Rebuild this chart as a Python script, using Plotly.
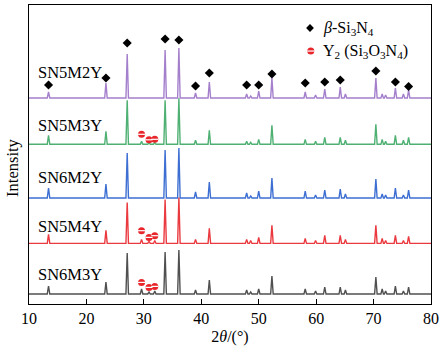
import plotly.graph_objects as go

# ---------------- data ----------------
peak_pos = [13.4, 23.4, 27.1, 29.6, 30.9, 31.9, 33.7, 36.1, 39.0, 41.4, 47.9, 48.6, 50.0,
            52.3, 58.1, 59.9, 61.5, 64.2, 65.1, 70.4, 71.5, 72.1, 73.8, 75.2, 76.1]

series_names = ["SN5M2Y", "SN5M3Y", "SN6M2Y", "SN5M4Y", "SN6M3Y"]
series_offsets = [206, 159.7, 106, 60.6, 10]
series_colors = ["#a47fcc", "#4fb073", "#3d6fd2", "#ea3a40", "#505050"]
label_y = [232, 179, 127, 78, 30]

h_SN5M2Y = [6, 15, 44, 0, 0, 0, 48, 50, 5, 16, 4, 2, 7, 20, 6, 3, 9, 11, 4, 20, 4, 3, 10, 4, 8]
h_SN5M3Y = [9, 13, 44, 3, 2, 2, 44, 46, 4, 14, 3, 2, 5, 19, 5, 3, 7, 7, 4, 20, 5, 3, 9, 4, 7]
h_SN6M2Y = [10, 14, 45, 0, 0, 0, 48, 50, 6, 16, 5, 2, 7, 20, 7, 3, 8, 9, 4, 19, 4, 3, 10, 3, 8]
h_SN5M4Y = [9, 13, 41, 4, 2, 3, 44, 46, 4, 15, 4, 3, 6, 18, 5, 3, 8, 8, 4, 18, 5, 3, 8, 3, 7]
h_SN6M3Y = [8, 12, 41, 5, 2, 3, 42, 44, 4, 14, 4, 2, 5, 18, 5, 3, 7, 7, 4, 17, 5, 3, 8, 3, 7]
heights = [h_SN5M2Y, h_SN5M3Y, h_SN6M2Y, h_SN5M4Y, h_SN6M3Y]

beta_x = [13.4, 23.4, 27.1, 33.7, 36.1, 39.0, 41.4, 47.9, 50.0, 52.3, 58.1, 61.5, 64.2, 70.4, 73.8, 76.1]
beta_h = [13, 20, 55, 59, 58, 12, 25, 13, 13, 24, 15, 16, 18, 27, 16, 11.5]

y2_x = [29.6, 30.9, 31.9]
y2_series = [1, 3, 4]
y2_h = [[10, 4.5, 5], [12.7, 6, 7.7], [11.6, 6.6, 7.6]]

x_ticks = [10, 20, 30, 40, 50, 60, 70, 80]

legend_labels = ["<i>β</i>-Si<sub>3</sub>N<sub>4</sub>",
                 "Y<sub>2</sub> (Si<sub>3</sub>O<sub>3</sub>N<sub>4</sub>)"]

FONT = "Liberation Serif"
HALF_W = 0.22
RED = "#e8262c"

fig = go.Figure()

for name, off, col, h in zip(series_names, series_offsets, series_colors, heights):
    xs, ys = [10], [off]
    for p, hh in zip(peak_pos, h):
        xs += [p - HALF_W, p, p + HALF_W]
        ys += [off, off + hh, off]
    xs.append(80)
    ys.append(off)
    fig.add_trace(go.Scatter(x=xs, y=ys, mode="lines", line=dict(color=col, width=1.4),
                             showlegend=False, hoverinfo="skip"))

# beta-Si3N4 markers on top series
fig.add_trace(go.Scatter(x=beta_x, y=[series_offsets[0] + v for v in beta_h], mode="markers",
                         marker=dict(symbol="diamond", size=7, color="black"),
                         showlegend=False, hoverinfo="skip"))

# Y2(Si3O3N4) markers: red disc with a white band
for si, hs in zip(y2_series, y2_h):
    ys = [series_offsets[si] + v for v in hs]
    fig.add_trace(go.Scatter(x=y2_x, y=ys, mode="markers",
                             marker=dict(symbol="circle", size=7, color=RED, line=dict(width=0)),
                             showlegend=False, hoverinfo="skip"))
    fig.add_trace(go.Scatter(x=y2_x, y=ys, mode="markers",
                             marker=dict(symbol="line-ew", size=5, color="white",
                                         line=dict(color="white", width=1.2)),
                             showlegend=False, hoverinfo="skip"))

# legend keys on an overlay axis with a unit range
fig.add_trace(go.Scatter(x=[0.699], y=[0.923], xaxis="x2", yaxis="y2", mode="markers",
                         marker=dict(symbol="diamond", size=6, color="black"),
                         showlegend=False, hoverinfo="skip"))
fig.add_trace(go.Scatter(x=[0.701], y=[0.846], xaxis="x2", yaxis="y2", mode="markers",
                         marker=dict(symbol="circle", size=7, color=RED, line=dict(width=0)),
                         showlegend=False, hoverinfo="skip"))
fig.add_trace(go.Scatter(x=[0.701], y=[0.846], xaxis="x2", yaxis="y2", mode="markers",
                         marker=dict(symbol="line-ew", size=5, color="white",
                                     line=dict(color="white", width=1.2)),
                         showlegend=False, hoverinfo="skip"))

annotations = []
for name, ly in zip(series_names, label_y):
    annotations.append(dict(x=0.017, xref="paper", y=ly, yref="y", text=name, showarrow=False,
                            xanchor="left", yanchor="middle",
                            font=dict(family=FONT, size=16.5, color="black")))

annotations += [
    dict(x=0.726, y=0.923, xref="paper", yref="paper", text=legend_labels[0], showarrow=False,
         xanchor="left", yanchor="middle", font=dict(family=FONT, size=16, color="black")),
    dict(x=0.726, y=0.846, xref="paper", yref="paper", text=legend_labels[1], showarrow=False,
         xanchor="left", yanchor="middle", font=dict(family=FONT, size=16, color="black")),
    dict(x=-0.04, y=0.455, xref="paper", yref="paper", text="Intensity", textangle=-90,
         showarrow=False, xanchor="center", yanchor="middle",
         font=dict(family=FONT, size=16.5, color="black")),
]

fig.update_layout(
    width=448, height=352,
    margin=dict(l=29, r=17, t=5, b=48),
    paper_bgcolor="white", plot_bgcolor="white",
    annotations=annotations,
    font=dict(family=FONT, size=16, color="black"),
    xaxis=dict(range=[10, 80], tickvals=x_ticks, ticktext=[str(v) for v in x_ticks],
               ticks="inside", ticklen=5, tickcolor="black", tickwidth=1,
               showline=True, linecolor="black", linewidth=1.2, mirror=True,
               showgrid=False, zeroline=False,
               tickfont=dict(family=FONT, size=16),
               title=dict(text="2<i>θ</i>/(°)", font=dict(family=FONT, size=16), standoff=4)),
    yaxis=dict(range=[0, 299], showticklabels=False, ticks="",
               showline=True, linecolor="black", linewidth=1.2, mirror=True,
               showgrid=False, zeroline=False),
    xaxis2=dict(range=[0, 1], overlaying="x", visible=False),
    yaxis2=dict(range=[0, 1], overlaying="y", visible=False),
)

fig.write_html("out.html")
